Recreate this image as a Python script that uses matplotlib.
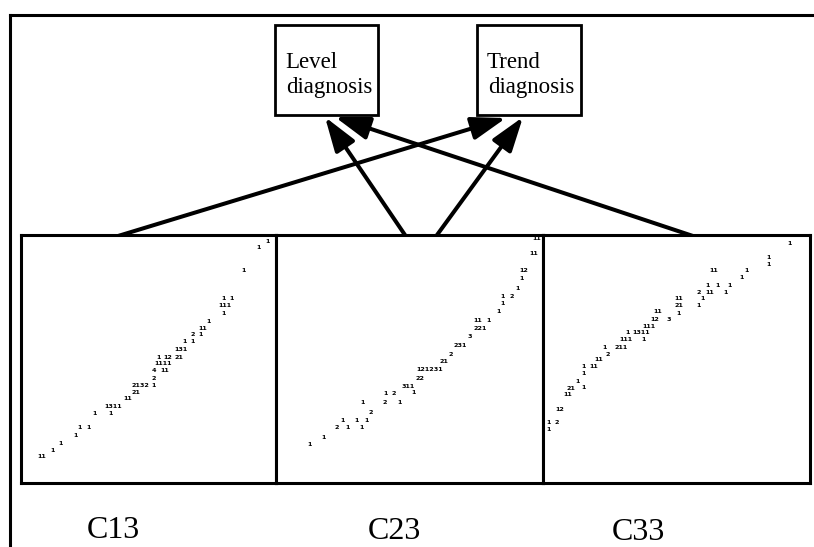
import matplotlib
matplotlib.use("Agg")
import matplotlib.pyplot as plt
from matplotlib.patches import Rectangle

# figure size in pixels (dpi 100)
W, H = 814, 547

# panel names
panels = ["C13", "C23", "C33"]

# character-plot points per panel, panel units 0..100 (x, y, printed count)
c13_x = [96.5, 93.3, 87.4, 79.5, 82.7, 79.9, 79.5, 73.6, 71.1, 67.3, 70.5, 64.2,
         67.3, 62.6, 53.9, 57.5, 61.8, 55.9, 52.0, 56.3, 52.0, 46.9, 52.0, 44.9,
         41.7, 36.2, 35.0, 28.7, 22.8, 26.4, 21.3, 15.4, 12.2, 8.3]
c13_y = [97.2, 94.8, 85.5, 74.2, 74.2, 71.4, 68.5, 65.3, 62.5, 59.7, 59.7, 56.9,
         56.9, 54.0, 50.8, 50.8, 50.8, 48.0, 45.2, 45.2, 42.3, 39.5, 39.5, 36.3,
         33.9, 30.8, 28.2, 28.2, 22.2, 22.2, 19.0, 16.1, 13.3, 10.5]
c13_lab = ["1", "1", "1", "1", "1", "111", "1", "1", "11", "2", "1", "1",
           "1", "131", "1", "12", "21", "1111", "4", "11", "2", "2132", "1", "21",
           "11", "1311", "1", "1", "1", "1", "1", "1", "1", "11"]

c23_x = [97.7, 96.6, 92.9, 92.1, 90.6, 85.0, 88.3, 85.0, 83.5, 75.6, 79.7, 76.3,
         72.6, 68.8, 65.4, 62.8, 57.5, 53.8, 49.6, 51.5, 41.0, 44.0, 40.6, 46.2,
         32.3, 35.3, 24.8, 30.1, 33.8, 22.9, 26.7, 32.0, 17.7, 12.4]
c23_y = [98.4, 92.7, 85.5, 82.3, 78.6, 75.4, 75.4, 72.2, 69.0, 65.7, 65.7, 62.5,
         58.9, 55.6, 52.0, 48.8, 45.6, 42.3, 39.1, 36.3, 35.9, 35.9, 32.3, 32.3,
         32.3, 28.6, 25.0, 25.0, 25.0, 22.2, 22.2, 22.2, 18.5, 15.7]
c23_lab = ["11", "11", "12", "1", "1", "1", "2", "1", "1", "11", "1", "221",
           "3", "231", "2", "21", "121231", "22", "311", "1", "1", "2", "2", "1",
           "1", "2", "1", "1", "1", "2", "1", "1", "1", "1"]

c33_x = [92.5, 84.3, 84.3, 64.0, 76.4, 74.5, 61.8, 65.2, 69.7, 58.4, 62.5, 68.2,
         59.9, 50.9, 50.9, 58.4, 50.6, 43.1, 41.9, 47.2, 39.7, 31.5, 36.7, 31.1,
         37.5, 23.2, 29.2, 24.3, 21.0, 15.0, 19.1, 15.0, 13.1, 10.5, 15.0, 9.4,
         6.4, 2.2, 5.2, 2.2]
c33_y = [96.4, 91.1, 88.3, 85.5, 85.5, 82.7, 79.8, 79.8, 79.8, 77.0, 77.0, 77.0,
         74.2, 74.2, 71.4, 71.4, 68.5, 69.0, 66.1, 66.1, 63.3, 60.5, 60.5, 57.7,
         57.7, 54.8, 54.8, 52.0, 49.6, 46.8, 46.8, 44.0, 41.1, 38.3, 38.7, 35.5,
         29.8, 24.2, 24.2, 21.4]
c33_lab = ["1", "1", "1", "11", "1", "1", "1", "1", "1", "2", "11", "1",
           "1", "11", "21", "1", "1", "11", "12", "3", "111", "1", "1311", "111",
           "1", "1", "211", "2", "11", "1", "11", "1", "1", "21", "1", "11",
           "12", "1", "2", "1"]

# diagnosis boxes
box_names = ["Level", "Trend"]

fig = plt.figure(figsize=(W / 100, H / 100), dpi=100)

# background layer in pixel coordinates for frame, boxes and arrows
bg = fig.add_axes([0, 0, 1, 1])
bg.set_xlim(0, W)
bg.set_ylim(H, 0)
bg.axis("off")

bg.plot([10, 10], [H, 15], color="black", lw=2.2, solid_capstyle="projecting")
bg.plot([10, W], [15, 15], color="black", lw=2.2, solid_capstyle="projecting")

serif = ["Liberation Serif", "DejaVu Serif"]
box_pos = [(275, 378), (477, 581)]
for name, (bx0, bx1) in zip(box_names, box_pos):
    bg.add_patch(Rectangle((bx0, 25), bx1 - bx0, 90, facecolor="white",
                           edgecolor="black", lw=2.0))
    bg.text(bx0 + 10, 68, name, family=serif, fontsize=16.5, va="baseline")
    bg.text(bx0 + 11, 93, "diagnosis", family=serif, fontsize=16.5, va="baseline")

# arrows: panel -> diagnosis box
arrows = [((118, 236), (506, 118)),
          ((405, 235), (325, 117)),
          ((437, 235), (523, 117)),
          ((693, 236), (335, 117))]
for start, end in arrows:
    bg.annotate("", xy=end, xytext=start,
                arrowprops=dict(arrowstyle="-|>,head_length=0.6,head_width=0.2",
                                color="black", lw=2.9, mutation_scale=35,
                                shrinkA=0, shrinkB=0))

# the three character plots
panel_px = [(21, 276), (276, 543), (543, 810)]
data = [(c13_x, c13_y, c13_lab), (c23_x, c23_y, c23_lab), (c33_x, c33_y, c33_lab)]
label_x = [113, 394, 638]
label_y = [538, 539, 540]
for i, ((x0, x1), (xs, ys, labs)) in enumerate(zip(panel_px, data)):
    ax = fig.add_axes([x0 / W, (H - 483) / H, (x1 - x0) / W, 248 / H])
    ax.set_xlim(0, 100)
    ax.set_ylim(0, 100)
    ax.set_xticks([])
    ax.set_yticks([])
    for s in ax.spines.values():
        s.set_linewidth(2.2)
    for x, y, t in zip(xs, ys, labs):
        ax.text(x, y, t, fontsize=4.6, fontweight="bold", ha="center", va="center")
    bg.text(label_x[i], label_y[i], panels[i], family=serif, fontsize=23,
            ha="center", va="baseline")

fig.savefig("out.png", dpi=100)
